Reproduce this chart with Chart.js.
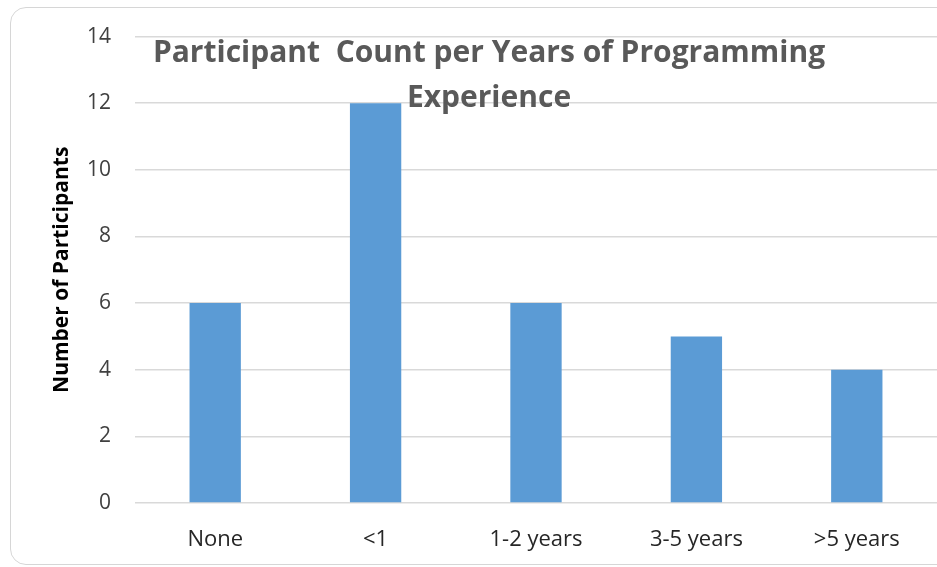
<!DOCTYPE html>
<html>
<head>
<meta charset="utf-8">
<script src="https://cdn.jsdelivr.net/npm/chart.js@4/dist/chart.umd.min.js"></script>
<style>
  html, body { margin: 0; padding: 0; background: #fff; }
  #wrap { position: relative; width: 937px; height: 567px; overflow: hidden; }
  #frame {
    position: absolute; left: 10px; top: 7px; width: 945px; height: 556px;
    border: 1.5px solid #d6d6d6; border-radius: 16px; pointer-events: none;
  }
  canvas { position: absolute; left: 0; top: 0; }
</style>
</head>
<body>
<div id="wrap">
  <canvas id="c" width="937" height="567"></canvas>
  <div id="frame"></div>
</div>
<script>
// Years of programming experience vs. number of participants
const categories = ['None', '<1', '1-2 years', '3-5 years', '>5 years'];
const participants = [6, 12, 6, 5, 4];
const titleLines = ['Participant  Count per Years of Programming', 'Experience'];

// Chart title is drawn over the plot area, as in the original spreadsheet chart
const overlayTitle = {
  id: 'overlayTitle',
  afterDatasetsDraw(chart) {
    const ctx = chart.ctx;
    ctx.save();
    ctx.fillStyle = '#595959';
    ctx.font = 'bold 30px "Open Sans"';
    ctx.textAlign = 'center';
    ctx.textBaseline = 'middle';
    ctx.fillText(titleLines[0], 489, 53);
    ctx.fillText(titleLines[1], 489, 98);
    ctx.restore();
  }
};

new Chart(document.getElementById('c'), {
  type: 'bar',
  data: {
    labels: categories,
    datasets: [{
      label: 'Participants',
      data: participants,
      backgroundColor: '#5b9bd5',
      borderWidth: 0,
      categoryPercentage: 1,
      barPercentage: 0.32
    }]
  },
  options: {
    responsive: false,
    animation: false,
    layout: { padding: { top: 36, left: 0, right: 0, bottom: 0 } },
    plugins: {
      legend: { display: false },
      title: { display: false },
      tooltip: { enabled: false }
    },
    scales: {
      x: {
        grid: { display: false, drawTicks: false },
        border: { display: false },
        ticks: { color: '#262626', font: { family: 'Open Sans', size: 22 }, padding: 24 },
        afterFit(scale) { scale.height = 64; }
      },
      y: {
        min: 0,
        max: 14,
        ticks: { stepSize: 2, color: '#404040', font: { family: 'Open Sans', size: 21 }, padding: 24 },
        grid: { color: '#d9d9d9', lineWidth: 1.5, drawTicks: false },
        border: { display: false },
        title: {
          display: true,
          text: 'Number of Participants',
          color: '#000',
          font: { family: 'Open Sans', size: 21, weight: 'bold' },
          padding: { top: 49, bottom: 0 }
        },
        afterFit(scale) { scale.width = 135; }
      }
    }
  },
  plugins: [overlayTitle]
});
</script>
</body>
</html>
